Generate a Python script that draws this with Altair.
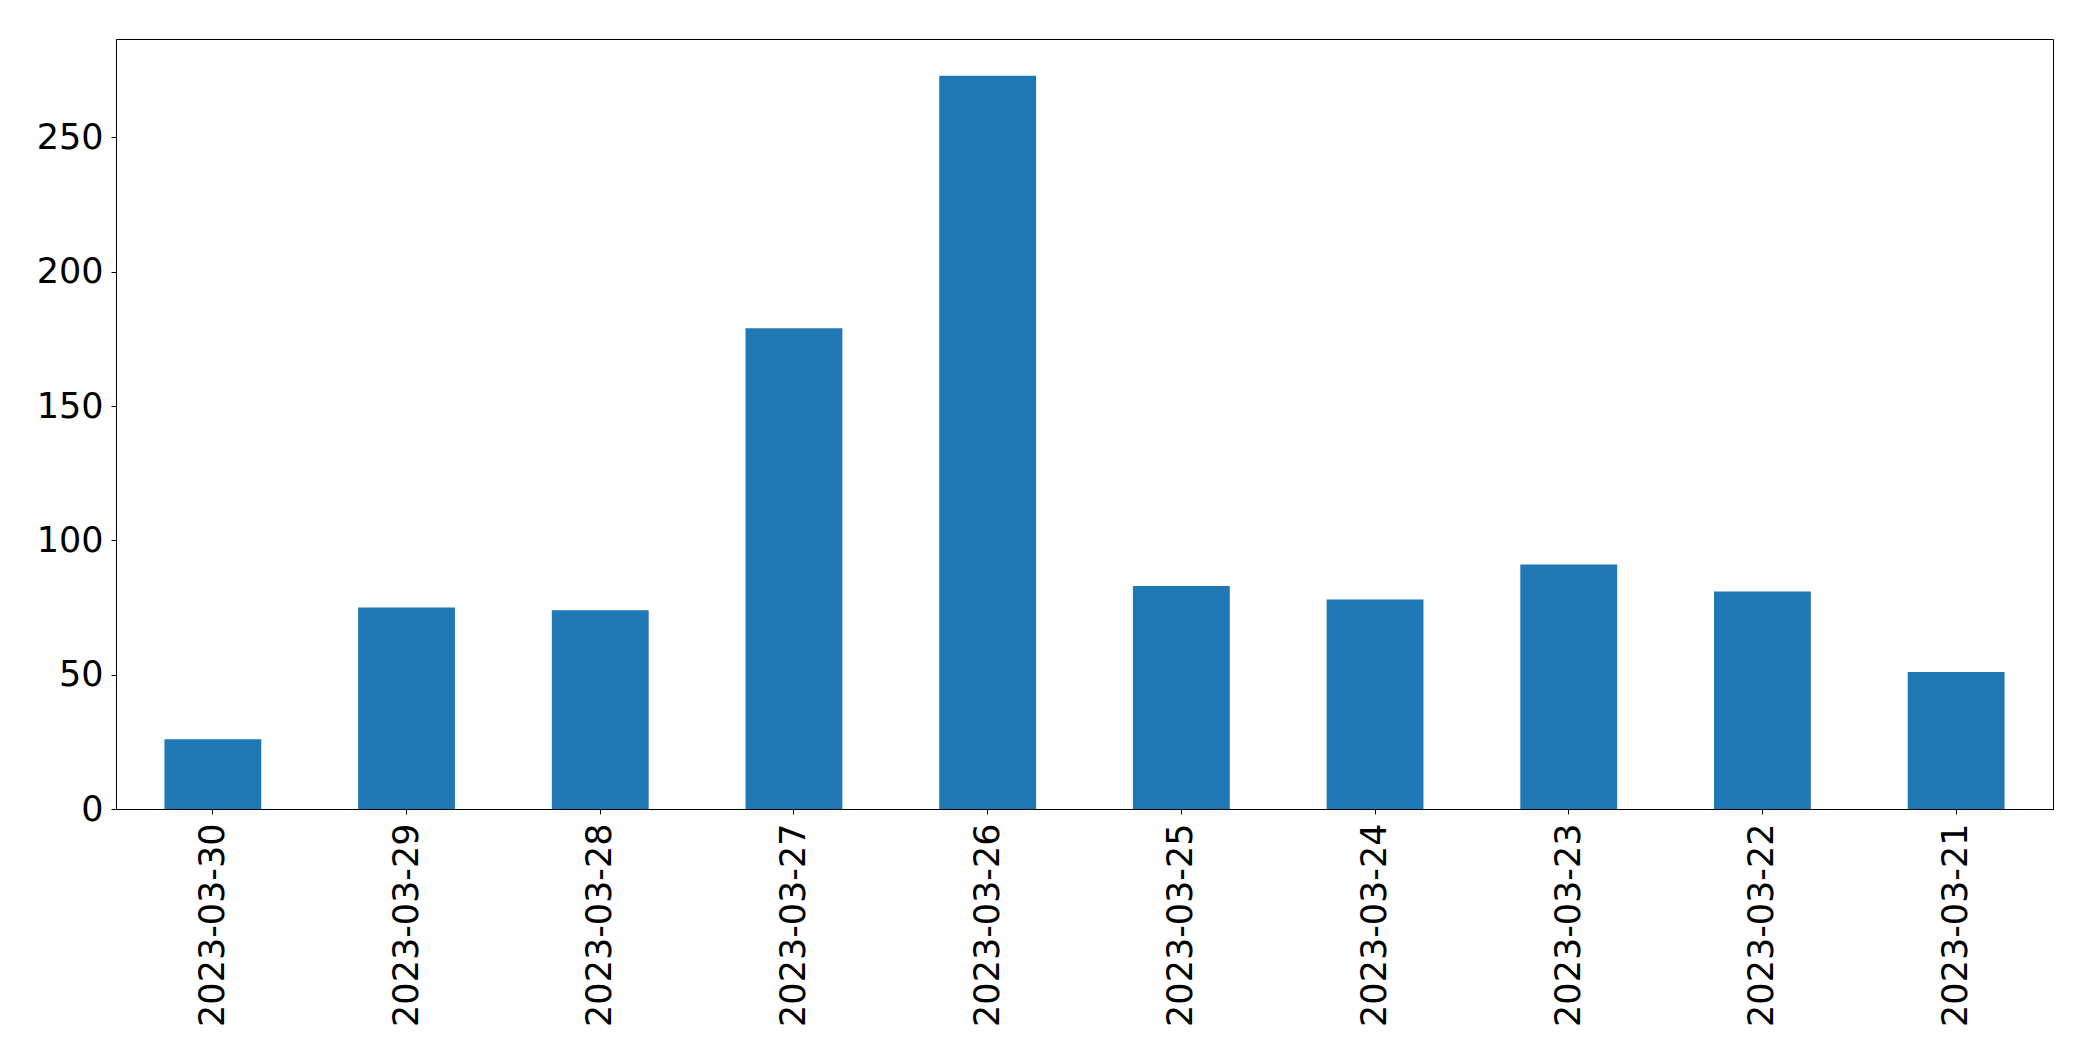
import altair as alt
import pandas as pd

dates = ["2023-03-30", "2023-03-29", "2023-03-28", "2023-03-27", "2023-03-26",
         "2023-03-25", "2023-03-24", "2023-03-23", "2023-03-22", "2023-03-21"]
counts = [26, 75, 74, 179, 273, 83, 78, 91, 81, 51]
y_ticks = [0, 50, 100, 150, 200, 250]

df = pd.DataFrame({"date": dates, "count": counts})

chart = alt.Chart(df).mark_bar(color="#1f77b4").encode(
    x=alt.X("date:N", sort=None, title=None,
            scale=alt.Scale(paddingInner=0.5, paddingOuter=0.25),
            axis=alt.Axis(labelAngle=270, labelAlign="right", labelBaseline="middle",
                          labelFont="DejaVu Sans", labelFontSize=35, labelColor="black",
                          labelLimit=500, labelPadding=9, tickSize=5, tickColor="black",
                          domainColor="black", tickWidth=1, domainWidth=1, grid=False)),
    y=alt.Y("count:Q", title=None,
            scale=alt.Scale(domain=[0, 286.65], nice=False, zero=True),
            axis=alt.Axis(values=y_ticks, labelFont="DejaVu Sans", labelFontSize=35,
                          labelColor="black", labelPadding=8, tickSize=5, tickColor="black",
                          domainColor="black", tickWidth=1, domainWidth=1, grid=False)),
).properties(
    width=1937, height=770,
    autosize=alt.AutoSizeParams(type="none"),
    padding={"left": 108, "top": 31, "right": 24, "bottom": 236},
).configure(
    background="white"
).configure_view(
    stroke="black", strokeWidth=1
)

chart.save("out.html", embed_options={"renderer": "svg", "actions": False})
